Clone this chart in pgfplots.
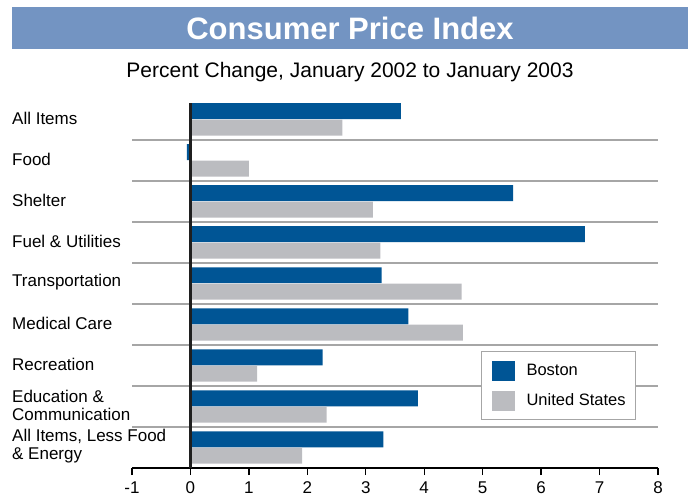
\documentclass[border=0pt]{standalone}
\usepackage{pgfplots}
\pgfplotsset{compat=1.18}
\usepackage{fontspec}
\setmainfont{Liberation Sans}
\definecolor{bostonblue}{HTML}{005595}
\definecolor{usgray}{HTML}{BBBCC0}
\definecolor{titlebar}{HTML}{7394C2}
\definecolor{rulegray}{HTML}{A6A6A6}

% y = 8 is "All Items" (top), y = 0 is "All Items, Less Food & Energy"
\pgfplotstableread{
y  boston  us
8  3.60    2.60
7  -0.06   1.00
6  5.52    3.12
5  6.75    3.25
4  3.27    4.64
3  3.73    4.66
2  2.26    1.14
1  3.89    2.33
0  3.30    1.91
}\cpidata

\begin{document}
\begin{tikzpicture}
\useasboundingbox (0pt,0pt) rectangle (693pt,-497pt);
\fill[titlebar] (12pt,-7pt) rectangle (688pt,-49pt);
\node[text=white, font=\fontsize{31}{35}\selectfont\bfseries] at (350pt,-28pt) {Consumer Price Index};
\node[font=\fontsize{21}{25}\selectfont] at (350pt,-72pt) {Percent Change, January 2002 to January 2003};

\begin{axis}[
  at={(132pt,-468pt)}, anchor=south west,
  scale only axis, width=526pt, height=365pt,
  xbar,
  xmin=-1, xmax=8, ymin=-0.5, ymax=8.4,
  xtick={-1,0,...,8},
  xticklabels={-1,0,1,2,3,4,5,6,7,8},
  ytick={0,...,8},
  yticklabels={{All Items, Less Food\\\& Energy},{Education \&\\Communication},Recreation,Medical Care,Transportation,Fuel \& Utilities,Shelter,Food,All Items},
  minor ytick={0.5,1.5,...,7.5},
  yminorgrids=true,
  minor grid style={rulegray, line width=1.6pt},
  minor tick length=0pt,
  axis x line*=bottom,
  axis y line*=left,
  y axis line style={draw=none},
  ytick style={draw=none},
  x axis line style={black, line width=1.3pt},
  xtick style={black, line width=1.3pt},
  xtick align=outside,
  major tick length=7pt,
  xticklabel style={font=\fontsize{17}{19}\selectfont, yshift=-3pt},
  yticklabel style={font=\fontsize{17}{18}\selectfont, anchor=west, align=left, inner sep=0pt, xshift=-113pt, yshift=1pt},
  bar width=0.39,
  legend style={at={(0.6635,0.3205)}, anchor=north west, draw=rulegray, line width=1pt,
    fill=white, font=\fontsize{16.5}{18}\selectfont, row sep=10pt,
    inner xsep=10pt, inner ysep=9pt, nodes={inner sep=0pt},
    /tikz/every odd column/.append style={column sep=12pt}},
  legend cell align=left,
  legend image code/.code={\fill[#1] (0pt,-10pt) rectangle (23pt,10pt);},
]
\addplot[fill=bostonblue, draw=none, bar shift=0.2] table[x=boston, y=y] {\cpidata};
\addlegendentry{Boston}
\addplot[fill=usgray, draw=none, bar shift=-0.2] table[x=us, y=y] {\cpidata};
\addlegendentry{United States}
\draw[black!88, line width=2.2pt] (axis cs:0,-0.5) -- (axis cs:0,8.4);
\end{axis}
\end{tikzpicture}
\end{document}
